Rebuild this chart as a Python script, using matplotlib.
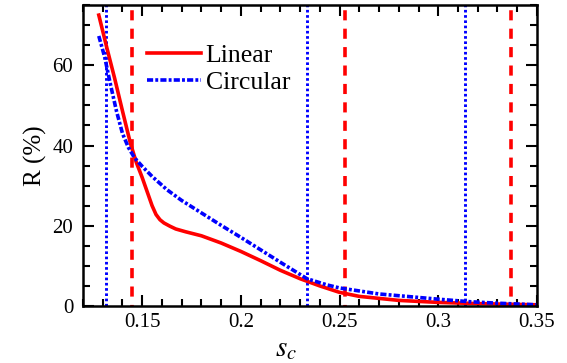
import numpy as np
import matplotlib
matplotlib.use("Agg")
import matplotlib.pyplot as plt

plt.rcParams['font.family'] = ['Liberation Serif', 'DejaVu Serif']
plt.rcParams['mathtext.fontset'] = 'stix'

# values
sc_linear = [0.128, 0.132, 0.136, 0.140, 0.144, 0.147, 0.150, 0.153, 0.155, 0.157, 0.159,
             0.161, 0.164, 0.167, 0.172, 0.18, 0.19, 0.20, 0.21, 0.22, 0.23, 0.24, 0.25,
             0.26, 0.28, 0.30, 0.32, 0.35]
r_linear = [72.5, 64.5, 56.8, 48.6, 40.6, 35.8, 32, 27.8, 25.0, 22.8, 21.5,
            20.7, 19.9, 19.2, 18.5, 17.5, 15.7, 13.6, 11.3, 8.9, 6.8, 5.0, 3.4,
            2.4, 1.4, 0.9, 0.6, 0.3]

sc_circular = [0.128, 0.131, 0.134, 0.137, 0.140, 0.143, 0.146, 0.150, 0.155, 0.1625,
               0.17, 0.18, 0.19, 0.20, 0.21, 0.22, 0.2335, 0.2437, 0.25, 0.27,
               0.30, 0.315, 0.33, 0.35]
r_circular = [67.3, 62, 55, 48.5, 43, 39.5, 37, 34.8, 32.3, 29,
              26.3, 23.2, 20.1, 17.1, 14.0, 10.9, 6.8, 5.25, 4.5, 3.0,
              1.7, 1.1, 0.7, 0.3]

vlines_linear = [0.1447, 0.2527, 0.3368]
vlines_circular = [0.1317, 0.2335, 0.3136]

fig = plt.figure(figsize=(5.67, 3.63), dpi=100)
ax = fig.add_axes([0.1464, 0.157, 0.8006, 0.829])

for x in vlines_circular:
    ax.axvline(x, color='blue', lw=2.1, linestyle=(0, (0.9, 0.9)))
for x in vlines_linear:
    ax.axvline(x, color='red', lw=2.6, linestyle=(2.5, (2.8, 2.3)))

ax.plot(sc_linear, r_linear, color='red', lw=2.6, label='Linear')
ax.plot(sc_circular, r_circular, color='blue', lw=2.6,
        linestyle=(0, (1.7, 0.6, 0.8, 0.6)), label='Circular')

ax.set_xlim(0.12, 0.35)
ax.set_ylim(0, 75)
ax.set_xticks([0.15, 0.2, 0.25, 0.3, 0.35])
ax.set_xticklabels(['0.15', '0.2', '0.25', '0.3', '0.35'])
ax.set_xticks(np.arange(0.12, 0.355, 0.01), minor=True)
ax.set_yticks([0, 20, 40, 60])
ax.set_yticks(np.arange(0, 76, 5), minor=True)

ax.tick_params(which='both', direction='in', top=True, right=True, width=1.5, labelsize=15)
ax.tick_params(which='major', length=8)
ax.tick_params(which='minor', length=5)
ax.tick_params(axis='x', pad=5)
ax.tick_params(axis='y', pad=7)
for s in ax.spines.values():
    s.set_linewidth(1.8)

ax.set_xlabel('$s_c$', fontsize=21, labelpad=0)
ax.xaxis.set_label_coords(0.447, -0.10)
ax.set_ylabel('R (%)', fontsize=18, labelpad=4)

ax.legend(loc='upper left', bbox_to_anchor=(0.14, 0.872), frameon=False,
          fontsize=18.5, handlelength=2.1, handletextpad=0.2, labelspacing=0.18,
          borderpad=0, borderaxespad=0)

fig.savefig('out.png', dpi=100)
